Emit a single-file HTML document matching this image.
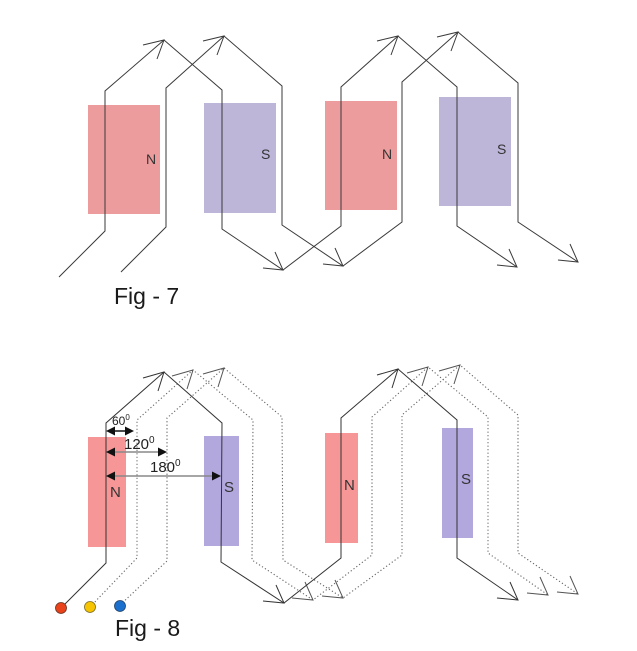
<!DOCTYPE html>
<html><head><meta charset="utf-8"><style>
html,body{margin:0;padding:0;background:#fff;}
svg{display:block;}
text{font-family:"Liberation Sans",sans-serif;}
</style></head><body>
<svg width="637" height="651" viewBox="0 0 637 651" xmlns="http://www.w3.org/2000/svg">
<rect width="637" height="651" fill="#fff"/>
<!-- Fig 7 magnets -->
<rect x="88" y="105" width="72" height="109" fill="#ec9c9c"/>
<rect x="204" y="103" width="72" height="110" fill="#bdb6d9"/>
<rect x="325" y="101" width="72" height="109" fill="#ec9c9c"/>
<rect x="439" y="97" width="72" height="109" fill="#bdb6d9"/>
<g font-size="14" fill="#333">
<text x="146" y="164">N</text>
<text x="261" y="159">S</text>
<text x="382" y="159">N</text>
<text x="497" y="154">S</text>
</g>
<!-- Fig 7 wires -->
<g fill="none" stroke="#3a3a3a" stroke-width="1">
<path d="M59,277 L105,231 L105,91 L164,40 L222,90 L222,229 L283,270 L341,226 L341,87 L398,36 L457,87 L457,226 L517,267"/>
<path d="M121,272 L166,227 L166,88 L224,36 L282,86 L282,225 L343,266 L402,222 L402,82 L458,32 L518,83 L518,222 L578,262"/>
<path d="M143,45 L164,40 L157,59"/>
<path d="M203,41 L224,36 L217,55"/>
<path d="M377,41 L398,36 L391,55"/>
<path d="M437,37 L458,32 L451,51"/>
<path d="M263,268 L283,270 L275,252"/>
<path d="M323,264 L343,266 L335,248"/>
<path d="M497,265 L517,267 L509,249"/>
<path d="M558,260 L578,262 L570,244"/>
</g>
<text x="114" y="304" font-size="23" fill="#1a1a1a">Fig - 7</text>

<!-- Fig 8 magnets -->
<rect x="88" y="437" width="38" height="110" fill="#f79696"/>
<rect x="204" y="436" width="35" height="110" fill="#b2a8de"/>
<rect x="325" y="433" width="33" height="110" fill="#f79696"/>
<rect x="442" y="428" width="31" height="110" fill="#b2a8de"/>
<g font-size="15" fill="#333">
<text x="110" y="497">N</text>
<text x="224" y="492">S</text>
<text x="344" y="490">N</text>
<text x="461" y="484">S</text>
</g>
<!-- dotted wires -->
<g fill="none" stroke="#666" stroke-width="1.1" stroke-dasharray="1.2,2.3">
<path d="M90,607 L137,558 L137,420 L193,370 L253,420 L252,560 L313,600 L372,555 L372,417 L428,367 L488,417 L488,553 L548,595"/>
<path d="M120,605 L167,561 L167,418 L224,368 L282,417 L283,560 L343,598 L402,555 L402,415 L460,365 L518,415 L518,553 L578,594"/>
</g>
<g fill="none" stroke="#555" stroke-width="1">
<path d="M172,376 L193,370 L187,389"/>
<path d="M203,374 L224,368 L218,387"/>
<path d="M407,373 L428,367 L422,386"/>
<path d="M439,371 L460,365 L454,384"/>
<path d="M292,598 L313,600 L305,582"/>
<path d="M322,596 L343,598 L335,580"/>
<path d="M527,593 L548,595 L540,577"/>
<path d="M557,592 L578,594 L570,576"/>
</g>
<!-- solid wire -->
<g fill="none" stroke="#333" stroke-width="1">
<path d="M61,608 L106,563 L106,423 L164,372 L222,423 L221,562 L284,603 L341,558 L341,418 L398,369 L457,420 L457,558 L518,600"/>
<path d="M143,378 L164,372 L158,391"/>
<path d="M377,375 L398,369 L392,388"/>
<path d="M263,601 L284,603 L276,585"/>
<path d="M497,598 L518,600 L510,582"/>
</g>
<!-- angle dimension arrows -->
<line x1="112" y1="431" x2="128" y2="431" stroke="#111" stroke-width="1.5"/>
<polygon points="106,431 115,426.5 115,435.5" fill="#111"/>
<polygon points="134,431 125,426.5 125,435.5" fill="#111"/>
<line x1="112" y1="452" x2="160" y2="452" stroke="#888" stroke-width="1.5"/>
<polygon points="106,452 115,447.5 115,456.5" fill="#111"/>
<polygon points="167,452 158,447.5 158,456.5" fill="#111"/>
<line x1="112" y1="476" x2="214" y2="476" stroke="#888" stroke-width="1.5"/>
<polygon points="106,476 115,471.5 115,480.5" fill="#111"/>
<polygon points="221,476 212,471.5 212,480.5" fill="#111"/>
<g fill="#222">
<text x="112" y="425" font-size="12">60<tspan font-size="8" dy="-5">0</tspan></text>
<text x="124" y="449" font-size="15">120<tspan font-size="10" dy="-6">0</tspan></text>
<text x="150" y="472" font-size="15">180<tspan font-size="10" dy="-6">0</tspan></text>
</g>
<!-- terminal dots -->
<circle cx="61" cy="608" r="5.5" fill="#e8431a" stroke="#6a3020" stroke-width="0.8"/>
<circle cx="90" cy="607" r="5.5" fill="#f6c400" stroke="#7a6a20" stroke-width="0.8"/>
<circle cx="120" cy="606" r="5.5" fill="#1a70cc" stroke="#20406a" stroke-width="0.8"/>
<text x="115" y="636" font-size="23" fill="#1a1a1a">Fig - 8</text>
</svg>
</body></html>
